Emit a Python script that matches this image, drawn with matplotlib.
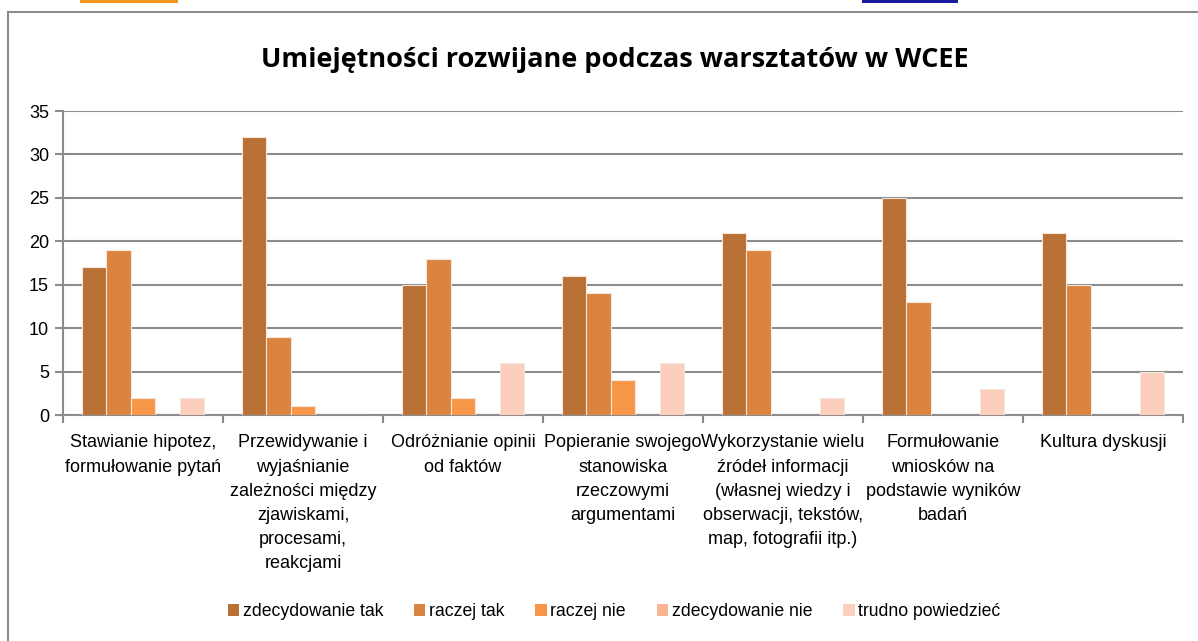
import matplotlib
matplotlib.use("Agg")
import matplotlib.pyplot as plt
import numpy as np
from matplotlib.patches import Rectangle

categories = [
    "Stawianie hipotez,\nformułowanie pytań",
    "Przewidywanie i\nwyjaśnianie\nzależności między\nzjawiskami,\nprocesami,\nreakcjami",
    "Odróżnianie opinii\nod faktów",
    "Popieranie swojego\nstanowiska\nrzeczowymi\nargumentami",
    "Wykorzystanie wielu\nźródeł informacji\n(własnej wiedzy i\nobserwacji, tekstów,\nmap, fotografii itp.)",
    "Formułowanie\nwniosków na\npodstawie wyników\nbadań",
    "Kultura dyskusji",
]
series_names = ["zdecydowanie tak", "raczej tak", "raczej nie", "zdecydowanie nie", "trudno powiedzieć"]
zdecydowanie_tak = [17, 32, 15, 16, 21, 25, 21]
raczej_tak = [19, 9, 18, 14, 19, 13, 15]
raczej_nie = [2, 1, 2, 4, 0, 0, 0]
zdecydowanie_nie = [0, 0, 0, 0, 0, 0, 0]
trudno_powiedziec = [2, 0, 6, 6, 2, 3, 5]
title = "Umiejętności rozwijane podczas warsztatów w WCEE"
yticks = [0, 5, 10, 15, 20, 25, 30, 35]

colors = ["#B97034", "#DB843F", "#F79646", "#F9B592", "#FBCFBB"]
series = [zdecydowanie_tak, raczej_tak, raczej_nie, zdecydowanie_nie, trudno_powiedziec]

label_font = "Liberation Sans"

fig = plt.figure(figsize=(11.98, 6.41), dpi=100)
# chart border
fig.patches.append(Rectangle((8/1198, -0.01), 1.2, 1 - 12/641 + 0.01, transform=fig.transFigure,
                             fill=False, edgecolor="#8c8c8c", linewidth=1.5))
# header decorations
fig.patches.append(Rectangle((80/1198, 1 - 3/641), 98/1198, 3/641, transform=fig.transFigure,
                             color="#F7941D", linewidth=0))
fig.patches.append(Rectangle((862/1198, 1 - 3/641), 96/1198, 3/641, transform=fig.transFigure,
                             color="#1A1A9E", linewidth=0))

ax = fig.add_axes([63/1198, 1 - 415/641, 1120/1198, (415 - 111)/641])
n = len(categories)
x = np.arange(n)
bw = 0.153
for i, (vals, c, name) in enumerate(zip(series, colors, series_names)):
    ax.bar(x + (i - 2) * bw, vals, width=bw, color=c, edgecolor="#f6e6dc", linewidth=0.8, label=name, zorder=3)

ax.set_xlim(-0.5, n - 0.5)
ax.set_ylim(0, 35)
ax.set_yticks(yticks)
ax.set_yticklabels([str(t) for t in yticks], fontsize=13, family=label_font)
ax.yaxis.grid(True, color="#8c8c8c", linewidth=1.5, zorder=0)
ax.set_axisbelow(True)
ax.set_xticks(np.arange(-0.5, n, 1.0))
ax.set_xticklabels([])
ax.set_xticks(x, minor=True)
ax.set_xticklabels(categories, minor=True, fontsize=13, family=label_font, va="top", linespacing=1.55)
ax.tick_params(axis="x", which="minor", length=0, pad=14)
ax.tick_params(axis="x", which="major", length=6, width=1.5, color="#8c8c8c")
ax.tick_params(axis="y", length=6, width=1.5, color="#8c8c8c", pad=4)
for s in ["top", "right"]:
    ax.spines[s].set_visible(False)
for s in ["left", "bottom"]:
    ax.spines[s].set_color("#8c8c8c")
    ax.spines[s].set_linewidth(1.5)

fig.text(615/1198, 1 - 60/641, title, ha="center", va="center", fontsize=19.5,
         fontweight="bold", family="Open Sans")

leg = fig.legend(loc="center", bbox_to_anchor=(614/1198, 1 - 612/641), ncol=5, frameon=False,
                 prop={"family": label_font, "size": 12.7}, handlelength=0.65, handleheight=0.65,
                 handletextpad=0.2, columnspacing=1.75)
for h in leg.legend_handles:
    h.set_edgecolor("none")

fig.savefig("out.png", dpi=100)
